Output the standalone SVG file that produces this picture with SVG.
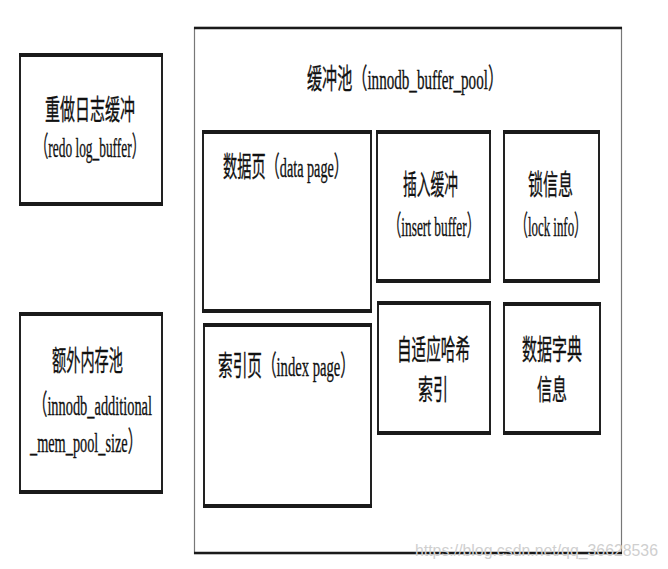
<svg xmlns="http://www.w3.org/2000/svg" width="668" height="569" viewBox="0 0 668 569">
  <style>
    .box { fill: #ffffff; stroke: #222222; stroke-width: 2; }
    .edge { stroke: #1a1a1a; stroke-width: 4; }
    .outer { fill: #ffffff; stroke: #777777; stroke-width: 1.2; }
    .outerEdge { stroke: #1a1a1a; stroke-width: 2.5; }
    .t { font-family: "Liberation Serif", "Noto Sans CJK SC", serif; font-size: 28px; fill: #111111; stroke: #111111; stroke-width: 0.35px; }
    .wm { font-family: "Liberation Sans", "DejaVu Sans", sans-serif; font-size: 17px; fill: #cfcfcf; }
  </style>
  <rect x="0" y="0" width="668" height="569" fill="#ffffff"/>

  <g id="redo_log_buffer">
    <rect class="box" x="20" y="54" width="142" height="151"/>
    <line class="edge" x1="19" y1="55" x2="163" y2="55"/>
    <line class="edge" x1="19" y1="204" x2="163" y2="204"/>
    <text class="t" x="45" y="120" textLength="90" lengthAdjust="spacingAndGlyphs">重做日志缓冲</text>
    <text class="t" x="35" y="157" textLength="110" lengthAdjust="spacingAndGlyphs">（redo log_buffer）</text>
  </g>

  <g id="additional_mem_pool">
    <rect class="box" x="20" y="313" width="142" height="180"/>
    <line class="edge" x1="19" y1="314" x2="163" y2="314"/>
    <line class="edge" x1="19" y1="492" x2="163" y2="492"/>
    <text class="t" x="52" y="371" textLength="71" lengthAdjust="spacingAndGlyphs">额外内存池</text>
    <text class="t" x="33" y="415" textLength="119" lengthAdjust="spacingAndGlyphs">（innodb_additional</text>
    <text class="t" x="30" y="452" textLength="112" lengthAdjust="spacingAndGlyphs">_mem_pool_size）</text>
  </g>

  <g id="buffer_pool">
    <rect class="outer" x="194.5" y="27.5" width="427" height="526"/>
    <line class="outerEdge" x1="194" y1="28" x2="622" y2="28"/>
    <line class="outerEdge" x1="194" y1="553" x2="622" y2="553"/>
    <text class="t" x="307" y="89" textLength="196" lengthAdjust="spacingAndGlyphs">缓冲池（innodb_buffer_pool）</text>
  </g>

  <g id="data_page">
    <rect class="box" x="203" y="131" width="168" height="181"/>
    <line class="edge" x1="202" y1="132" x2="372" y2="132"/>
    <line class="edge" x1="202" y1="311" x2="372" y2="311"/>
    <text class="t" x="223" y="177" textLength="125" lengthAdjust="spacingAndGlyphs">数据页（data page）</text>
  </g>

  <g id="insert_buffer">
    <rect class="box" x="377" y="131" width="113" height="151"/>
    <line class="edge" x1="376" y1="132" x2="491" y2="132"/>
    <line class="edge" x1="376" y1="281" x2="491" y2="281"/>
    <text class="t" x="403" y="195" textLength="55" lengthAdjust="spacingAndGlyphs">插入缓冲</text>
    <text class="t" x="388" y="236" textLength="92" lengthAdjust="spacingAndGlyphs">（insert buffer）</text>
  </g>

  <g id="lock_info">
    <rect class="box" x="504" y="131" width="95" height="151"/>
    <line class="edge" x1="503" y1="132" x2="600" y2="132"/>
    <line class="edge" x1="503" y1="281" x2="600" y2="281"/>
    <text class="t" x="528" y="195" textLength="45" lengthAdjust="spacingAndGlyphs">锁信息</text>
    <text class="t" x="515" y="236" textLength="72" lengthAdjust="spacingAndGlyphs">（lock info）</text>
  </g>

  <g id="index_page">
    <rect class="box" x="204" y="324" width="167" height="183"/>
    <line class="edge" x1="203" y1="325" x2="372" y2="325"/>
    <line class="edge" x1="203" y1="506" x2="372" y2="506"/>
    <text class="t" x="218" y="376" textLength="137" lengthAdjust="spacingAndGlyphs">索引页（index page）</text>
  </g>

  <g id="adaptive_hash_index">
    <rect class="box" x="378" y="302" width="112" height="132"/>
    <line class="edge" x1="377" y1="303" x2="491" y2="303"/>
    <line class="edge" x1="377" y1="433" x2="491" y2="433"/>
    <text class="t" x="397" y="360" textLength="73" lengthAdjust="spacingAndGlyphs">自适应哈希</text>
    <text class="t" x="418" y="400" textLength="30" lengthAdjust="spacingAndGlyphs">索引</text>
  </g>

  <g id="data_dictionary">
    <rect class="box" x="504" y="303" width="96" height="131"/>
    <line class="edge" x1="503" y1="304" x2="601" y2="304"/>
    <line class="edge" x1="503" y1="433" x2="601" y2="433"/>
    <text class="t" x="522" y="360" textLength="60" lengthAdjust="spacingAndGlyphs">数据字典</text>
    <text class="t" x="537" y="400" textLength="30" lengthAdjust="spacingAndGlyphs">信息</text>
  </g>

  <g id="connectors"></g>

  <text class="wm" x="415" y="556" textLength="243" lengthAdjust="spacingAndGlyphs">https://blog.csdn.net/qq_36628536</text>
</svg>
